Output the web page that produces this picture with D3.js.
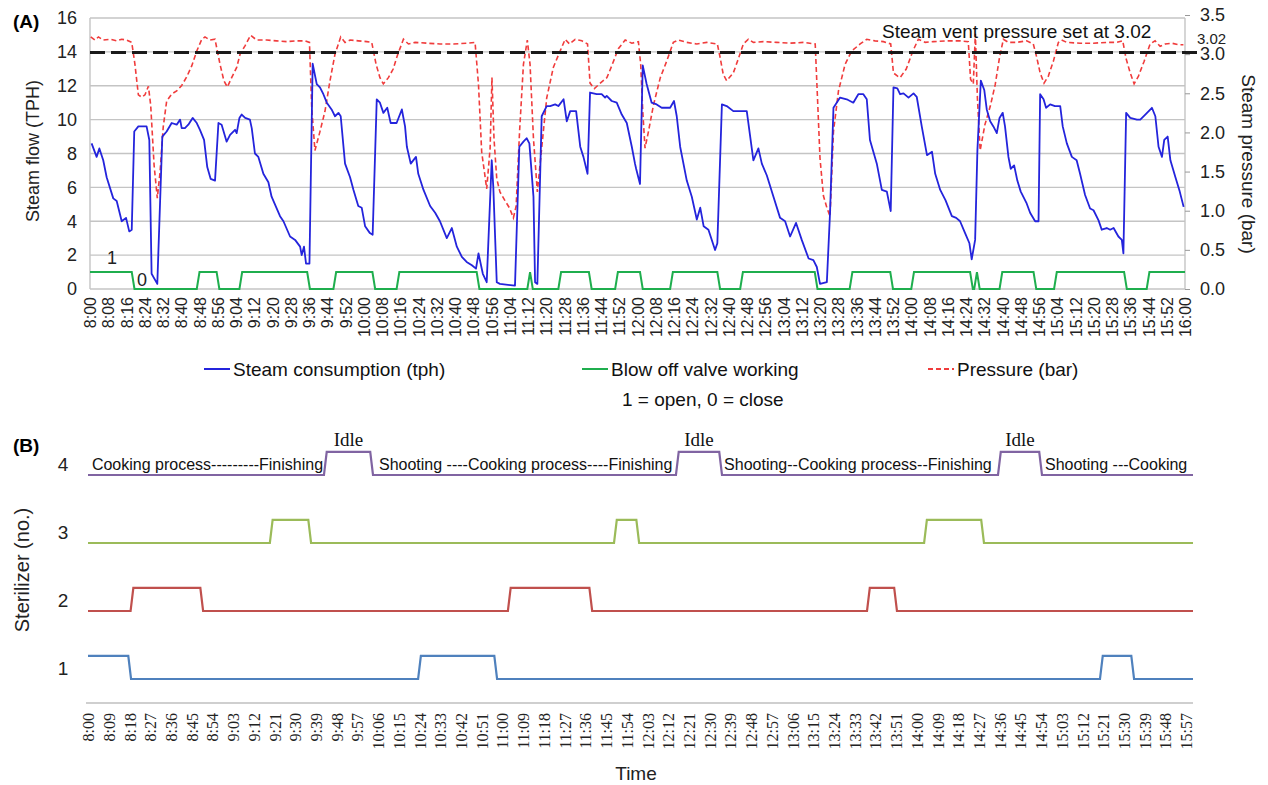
<!DOCTYPE html>
<html>
<head>
<meta charset="utf-8">
<script src="https://cdn.jsdelivr.net/npm/d3@7"></script>
<style>
  body { margin: 0; background: #fff; }
  svg { display: block; font-family: "Liberation Sans", Arial, sans-serif; }
</style>
</head>
<body>
<div id="chart"></div>
<script>
// all times are minutes after 8:00

// (A) steam consumption, tph  [minute, value]
var steamFlow = [
  [0.7,8.6],[2.9,7.8],[4.1,8.3],[5.8,7.6],[7.3,6.6],[10.2,5.35],[11.7,5.2],[13.9,4.0],[15.8,4.2],[17.2,3.4],
  [18.3,3.5],[19.4,9.3],[21.2,9.6],[24.8,9.6],[26.0,8.8],[27.0,0.9],[29.5,0.3],[31.7,9.0],[33.6,9.3],[35.8,9.8],
  [38.0,9.7],[39.5,10.0],[40.2,9.5],[41.6,9.5],[43.1,9.7],[45.0,10.1],[46.8,9.8],[48.2,9.4],[50.0,8.8],[51.4,7.2],
  [52.9,6.5],[54.8,6.4],[56.3,9.8],[57.7,9.7],[59.9,8.7],[61.4,9.1],[63.6,9.4],[64.3,9.2],[65.5,10.1],[66.5,10.3],
  [68.0,10.1],[70.1,10.0],[70.9,9.5],[72.3,8.0],[73.8,7.8],[76.0,6.8],[78.2,6.3],[79.6,5.45],[83.3,4.3],[84.8,4.0],
  [87.7,3.1],[89.9,2.9],[92.1,2.5],[92.8,2.0],[93.8,2.5],[94.7,1.5],[96.2,1.5],[97.6,13.3],[99.4,12.1],[100.8,11.9],
  [102.3,11.5],[103.8,11.0],[105.9,10.6],[107.4,10.2],[108.9,10.4],[109.9,10.2],[111.8,7.4],[114.0,6.6],[115.5,5.85],[117.6,4.9],
  [119.1,4.8],[120.6,3.7],[122.7,3.3],[123.9,3.2],[125.7,11.2],[127.1,11.0],[128.6,10.4],[130.3,10.7],[131.8,9.8],[134.4,9.8],
  [136.7,10.6],[138.1,9.6],[138.9,8.4],[140.6,7.4],[142.9,7.8],[143.9,6.8],[146.2,5.85],[149.1,4.9],[151.3,4.5],[153.4,4.0],
  [156.4,3.0],[158.6,3.6],[160.8,2.5],[163.0,1.9],[165.1,1.6],[167.4,1.4],[169.2,1.2],[170.3,2.1],[172.2,0.9],[173.9,0.4],
  [176.1,7.6],[176.8,6.0],[178.3,0.4],[179.7,0.3],[186.3,0.2],[188.2,8.4],[190.0,8.7],[191.4,8.9],[192.6,8.6],[194.4,5.45],
  [195.1,0.4],[196.1,0.3],[198.0,10.2],[200.2,10.8],[201.7,10.8],[203.9,10.9],[205.3,10.8],[207.6,11.2],[209.0,9.9],[210.5,10.5],
  [213.1,10.5],[214.9,8.4],[216.3,7.8],[218.1,6.8],[219.2,11.6],[222.1,11.5],[224.3,11.5],[225.8,11.3],[226.5,11.4],[228.7,11.1],
  [230.9,11.0],[233.1,10.3],[235.3,9.8],[237.5,8.4],[238.9,7.4],[239.4,7.1],[241.1,6.2],[242.3,13.2],[244.0,12.1],[246.2,11.0],
  [248.4,10.9],[250.6,10.7],[254.3,10.7],[256.0,11.1],[257.2,10.2],[258.7,8.4],[261.6,6.4],[263.8,5.45],[266.0,4.1],[267.5,4.8],
  [269.0,3.7],[271.1,3.5],[274.0,2.3],[275.0,2.7],[277.0,10.9],[279.1,10.8],[282.0,10.5],[284.2,10.5],[287.9,10.5],[289.4,9.0],
  [290.8,7.6],[293.0,8.3],[294.5,7.4],[296.7,6.7],[299.6,5.45],[302.5,4.2],[304.7,4.0],[306.9,3.1],[309.5,3.9],[312.0,2.9],
  [315.0,1.8],[317.1,1.7],[318.6,1.3],[320.0,0.3],[323.0,0.4],[324.4,4.5],[325.9,10.7],[328.8,11.3],[331.7,11.2],[334.6,11.0],
  [336.8,11.5],[339.0,11.5],[340.5,11.2],[341.9,8.8],[344.9,7.4],[347.1,5.85],[349.3,5.75],[351.0,4.6],[352.2,11.9],[353.9,11.85],
  [355.1,11.5],[356.6,11.55],[358.8,11.3],[361.0,11.55],[362.4,11.35],[364.6,9.6],[366.9,7.9],[369.1,8.1],[370.5,6.8],[372.7,5.85],
  [375.0,5.25],[377.8,4.3],[379.7,4.2],[381.4,4.0],[383.6,3.3],[385.5,2.7],[386.5,1.75],[388.0,2.9],[389.0,8.2],[390.5,12.3],
  [392.0,11.75],[393.1,10.6],[394.6,9.9],[396.0,9.6],[397.5,9.2],[398.7,10.1],[400.1,10.4],[401.1,9.6],[402.6,7.8],[403.6,7.1],
  [405.1,7.3],[406.5,6.4],[408.0,5.75],[410.6,5.05],[412.1,4.5],[414.3,4.0],[415.8,4.0],[416.5,11.5],[418.0,11.2],[419.1,10.7],
  [420.9,10.9],[423.0,10.8],[425.3,10.8],[426.4,9.6],[428.2,8.6],[430.4,7.8],[432.5,7.6],[434.0,6.8],[436.2,5.55],[438.4,4.75],
  [439.9,4.65],[442.1,4.05],[443.5,3.5],[445.7,3.6],[447.2,3.5],[448.7,3.6],[450.8,3.1],[452.3,2.9],[453.0,2.1],[454.2,10.4],
  [456.0,10.1],[458.9,10.0],[460.4,10.0],[462.6,10.3],[465.5,10.7],[467.0,10.2],[468.4,8.4],[469.9,7.8],[470.9,8.8],[472.4,9.0],
  [473.6,7.6],[475.8,6.6],[477.7,5.75],[479.4,4.85]
];

// (A) blow off valve open periods [from, to]
var valveOpen = [
  [0,19.5],[46.8,56.7],[65.5,96.4],[106.7,125],[134.4,170.7],[191.7,194.1],[205.3,219.9],[230.2,242.3],
  [254.3,276.2],[285,318.9],[333,352],[360,387],[387.6,390],[398.7,414.8],[422.6,454.5],[463.2,480]
];

// (A) steam pressure, bar  [minute, value]
var pressure = [
  [0.3,3.22],[2.2,3.18],[3.7,3.22],[5.8,3.18],[8.8,3.19],[11.7,3.17],[13.9,3.19],[16.1,3.18],[18.3,3.15],[19.7,2.87],
  [21.2,2.48],[22.7,2.45],[24.1,2.48],[25.6,2.59],[26.6,2.35],[28.1,1.58],[29.5,1.16],[30.7,1.49],[32.1,2.07],[33.6,2.40],
  [35.8,2.49],[38.0,2.53],[40.2,2.60],[42.4,2.71],[44.6,2.85],[46.8,3.04],[49.0,3.19],[50.4,3.22],[52.6,3.18],[54.8,3.19],
  [57.0,2.87],[58.7,2.66],[60.2,2.58],[62.1,2.70],[64.3,2.83],[65.8,3.00],[68.0,3.11],[70.4,3.24],[73.1,3.18],[77.5,3.18],
  [81.8,3.17],[86.2,3.16],[90.6,3.17],[94.3,3.17],[96.2,3.15],[97.2,2.31],[98.6,1.77],[100.8,2.01],[103.0,2.27],[105.2,2.66],
  [107.4,3.00],[109.9,3.22],[111.8,3.15],[114.0,3.18],[117.6,3.17],[121.3,3.16],[123.5,3.15],[125.4,2.87],[127.1,2.70],[128.6,2.62],
  [130.8,2.70],[132.9,2.81],[134.7,2.98],[137.4,3.19],[139.6,3.13],[142.5,3.15],[147.6,3.14],[153.4,3.13],[159.3,3.13],[165.1,3.14],
  [168.8,3.15],[170.3,2.61],[171.7,1.75],[173.9,1.28],[175.4,1.80],[176.2,2.70],[177.1,1.92],[178.3,1.41],[179.7,1.24],[181.9,1.13],
  [183.8,1.04],[185.6,0.91],[186.8,1.06],[188.3,2.01],[190.0,2.87],[191.7,3.18],[192.9,2.87],[194.4,1.92],[196.1,1.24],[198.0,1.80],
  [200.2,2.44],[203.1,2.83],[205.8,3.02],[208.3,3.19],[210.2,3.13],[212.7,3.19],[215.6,3.17],[218.1,3.13],[219.2,2.63],[221.1,2.56],
  [223.7,2.63],[226.6,2.70],[228.7,2.85],[231.6,3.07],[234.6,3.18],[237.5,3.14],[240.4,3.16],[241.4,2.87],[242.3,2.27],[243.3,1.80],
  [244.8,2.01],[247.0,2.35],[250.0,2.70],[252.8,2.91],[255.7,3.15],[257.9,3.18],[261.6,3.15],[266.0,3.13],[270.4,3.15],[275.0,3.13],
  [276.2,2.96],[277.6,2.74],[279.1,2.66],[282.0,2.76],[284.2,2.94],[286.4,3.13],[288.6,3.19],[290.8,3.15],[295.2,3.16],[301.0,3.15],
  [306.9,3.14],[312.8,3.15],[317.9,3.13],[318.9,2.44],[320.0,1.67],[321.5,1.19],[323.0,1.04],[324.4,0.93],[325.9,2.01],[328.1,2.53],
  [331.0,2.87],[333.9,3.04],[337.6,3.13],[340.5,3.19],[344.1,3.17],[347.8,3.16],[351.0,3.13],[352.2,2.76],[354.0,2.72],[355.1,2.70],
  [357.8,2.81],[360.7,3.04],[363.1,3.19],[366.1,3.15],[369.7,3.16],[375.6,3.17],[381.4,3.17],[385.0,3.16],[386.0,2.68],[387.2,2.62],
  [388.1,3.26],[389.0,2.44],[390.2,1.77],[392.3,2.10],[394.6,2.33],[396.8,2.61],[398.7,2.96],[400.4,3.19],[402.6,3.15],[406.2,3.15],
  [410.6,3.17],[413.5,3.13],[415.0,2.96],[416.5,2.76],[418.2,2.63],[420.1,2.72],[422.3,2.91],[424.5,3.15],[425.9,3.18],[428.2,3.15],
  [434.0,3.14],[439.9,3.14],[445.7,3.15],[450.1,3.15],[452.7,3.17],[454.2,2.94],[456.0,2.76],[457.7,2.62],[459.6,2.72],[462.1,2.91],
  [464.7,3.13],[466.9,3.17],[469.1,3.10],[471.3,3.13],[474.2,3.14],[477.1,3.12],[479.3,3.12]
];

var flowTicks = [0, 2, 4, 6, 8, 10, 12, 14, 16];
var pressureTicks = [0, 0.5, 1, 1.5, 2, 2.5, 3, 3.5];
var ventPressure = 3.02;
var timeTicksA = d3.range(0, 481, 8);

// (B) sterilizer busy periods [from, to]
var sterilizer1 = [[0, 18.7], [143.4, 177.7], [439.6, 454.4]];
var sterilizer2 = [[18.5, 50], [182.4, 219], [338.4, 351.4]];
var sterilizer3 = [[79, 96.9], [228.5, 239.4], [363.2, 389.2]];
var sterilizer4 = [[102.5, 123.8], [255.4, 275.4], [395.3, 414.4]];
var phaseText = ["Cooking process---------Finishing", "Shooting ----Cooking process----Finishing",
                 "Shooting--Cooking process--Finishing", "Shooting ---Cooking"];
var phaseStart = [1.7, 126.4, 276.3, 415.7];
var timeTicksB = d3.range(0, 478, 9);

var W = 1268, H = 785;
var sans = '"Liberation Sans", Arial, sans-serif';
var serif = '"Liberation Serif", "Times New Roman", serif';

function hm(m) {
  var h = 8 + Math.floor(m / 60), mm = m % 60;
  return h + ":" + (mm < 10 ? "0" : "") + mm;
}

// turns [from,to] periods into a 0/1 trace with short ramps
function stepTrace(periods, ramp) {
  var pts = [];
  if (periods[0][0] > 0) pts.push([0, 0]);
  periods.forEach(function (p) {
    if (p[0] <= 0) pts.push([0, 1]);
    else { pts.push([p[0], 0]); pts.push([p[0] + ramp, 1]); }
    if (p[1] >= 480) pts.push([480, 1]);
    else { pts.push([p[1] - ramp, 1]); pts.push([p[1], 0]); }
  });
  if (periods[periods.length - 1][1] < 480) pts.push([480, 0]);
  return pts;
}

var svg = d3.select("#chart").append("svg").attr("width", W).attr("height", H);
svg.append("rect").attr("width", W).attr("height", H).attr("fill", "#fff");

// ---------------- panel A ----------------
var xA = d3.scaleLinear().domain([0, 480]).range([90, 1185]);
var yL = d3.scaleLinear().domain([0, 16]).range([289, 18]);
var yR = d3.scaleLinear().domain([0, 3.5]).range([289, 15]);

var gA = svg.append("g");

gA.selectAll("line.grid").data(flowTicks).enter().append("line")
  .attr("class", "grid")
  .attr("x1", xA(0)).attr("x2", xA(480))
  .attr("y1", function (d) { return yL(d); }).attr("y2", function (d) { return yL(d); })
  .attr("stroke", "#c4c4c4").attr("stroke-width", 1.4);

[0, 480].forEach(function (t) {
  gA.append("line").attr("x1", xA(t)).attr("x2", xA(t))
    .attr("y1", yL(16)).attr("y2", yL(0))
    .attr("stroke", "#c4c4c4").attr("stroke-width", 1.4);
});

var axL = gA.append("g").attr("transform", "translate(" + xA(0) + ",0)")
  .call(d3.axisLeft(yL).tickValues(flowTicks).tickSize(0).tickPadding(13));
axL.select(".domain").remove();
axL.selectAll("text").attr("font-family", sans).attr("font-size", 18).attr("fill", "#222");

var axR = gA.append("g").attr("transform", "translate(" + xA(480) + ",0)")
  .call(d3.axisRight(yR).tickValues(pressureTicks).tickFormat(d3.format(".1f")).tickSize(5).tickPadding(10));
axR.select(".domain").remove();
axR.selectAll("line").attr("stroke", "#999");
axR.selectAll("text").attr("font-family", sans).attr("font-size", 18).attr("fill", "#222");

var axB = gA.append("g").attr("transform", "translate(0," + yL(0) + ")")
  .call(d3.axisBottom(xA).tickValues(timeTicksA).tickFormat(hm).tickSize(0));
axB.select(".domain").remove();
axB.selectAll("text")
  .attr("font-family", sans).attr("font-size", 16).attr("fill", "#222")
  .attr("transform", "rotate(-90)").attr("text-anchor", "end")
  .attr("x", -8).attr("y", 0).attr("dy", "0.35em");

var lineFlow = d3.line().x(function (d) { return xA(d[0]); }).y(function (d) { return yL(d[1]); });
var lineP = d3.line().x(function (d) { return xA(d[0]); }).y(function (d) { return yR(d[1]); });

gA.append("path").datum(pressure).attr("d", lineP)
  .attr("fill", "none").attr("stroke", "#f03c3c").attr("stroke-width", 1.6).attr("stroke-dasharray", "5,3");

gA.append("path").datum(stepTrace(valveOpen, 1.2)).attr("d", lineFlow)
  .attr("fill", "none").attr("stroke", "#1fae4e").attr("stroke-width", 2);

gA.append("path").datum(steamFlow).attr("d", lineFlow)
  .attr("fill", "none").attr("stroke", "#2424dc").attr("stroke-width", 1.8).attr("stroke-linejoin", "round");

gA.append("line")
  .attr("x1", xA(0)).attr("x2", xA(480) + 12)
  .attr("y1", yR(ventPressure)).attr("y2", yR(ventPressure))
  .attr("stroke", "#1a1a1a").attr("stroke-width", 3).attr("stroke-dasharray", "15,6");

gA.append("text").attr("x", 882).attr("y", 38).attr("font-size", 19).attr("fill", "#111")
  .text("Steam vent pressure set at " + ventPressure.toFixed(2));
gA.append("text").attr("x", xA(480) + 12).attr("y", yR(ventPressure) - 9).attr("font-size", 15).attr("fill", "#222")
  .text(ventPressure.toFixed(2));

gA.append("text").attr("x", 13).attr("y", 28).attr("font-size", 19).attr("font-weight", "bold").text("(A)");
gA.append("text").attr("transform", "translate(39,151) rotate(-90)").attr("text-anchor", "middle")
  .attr("font-size", 18).attr("fill", "#222").text("Steam flow (TPH)");
gA.append("text").attr("transform", "translate(1242,164) rotate(90)").attr("text-anchor", "middle")
  .attr("font-size", 19).attr("fill", "#222").text("Steam pressure (bar)");

gA.append("text").attr("x", xA(9.6)).attr("y", yL(1) - 8).attr("text-anchor", "middle")
  .attr("font-size", 18).attr("fill", "#222").text("1");
gA.append("text").attr("x", xA(22.8)).attr("y", yL(0) - 3).attr("text-anchor", "middle")
  .attr("font-size", 18).attr("fill", "#222").text("0");

// legend
var legend = [
  { label: "Steam consumption (tph)", color: "#2424dc", dash: null, x: 204 },
  { label: "Blow off valve working", color: "#1fae4e", dash: null, x: 582 },
  { label: "Pressure (bar)", color: "#f03c3c", dash: "5,3", x: 928 }
];
var lg = svg.append("g").selectAll("g").data(legend).enter().append("g")
  .attr("transform", function (d) { return "translate(" + d.x + ",369)"; });
lg.append("line").attr("x1", 0).attr("x2", 26).attr("y1", 0).attr("y2", 0)
  .attr("stroke", function (d) { return d.color; }).attr("stroke-width", 2)
  .attr("stroke-dasharray", function (d) { return d.dash; });
lg.append("text").attr("x", 29).attr("y", 0).attr("dy", "0.35em").attr("font-size", 19).attr("fill", "#111")
  .text(function (d) { return d.label; });
svg.append("text").attr("x", 622).attr("y", 399).attr("dy", "0.35em").attr("font-size", 19).attr("fill", "#111")
  .text("1 = open, 0 = close");

// ---------------- panel B ----------------
var xB = d3.scaleLinear().domain([0, 480]).range([88, 1193]);
var yB = d3.scaleLinear().domain([1, 4]).range([679, 475]);
var pulse = 0.34;
var sterColor = ["#4f81bd", "#c0504d", "#9bbb59", "#8064a2"];
var sterRuns = [sterilizer1, sterilizer2, sterilizer3, sterilizer4];

var gB = svg.append("g");

sterRuns.forEach(function (runs, i) {
  var n = i + 1;
  var line = d3.line().x(function (d) { return xB(d[0]); }).y(function (d) { return yB(n + d[1] * pulse); });
  gB.append("path").datum(stepTrace(runs, 1.2)).attr("d", line)
    .attr("fill", "none").attr("stroke", sterColor[i]).attr("stroke-width", 2.2);
  gB.append("text").attr("x", 63).attr("y", yB(n) - 11).attr("dy", "0.35em").attr("text-anchor", "middle")
    .attr("font-size", 19).attr("fill", "#222").text(n);
});

// phase notes along sterilizer 4
gB.selectAll("text.phase").data(phaseText).enter().append("text")
  .attr("class", "phase")
  .attr("x", function (d, i) { return xB(phaseStart[i]); })
  .attr("y", yB(4) - 5).attr("font-size", 16).attr("fill", "#111")
  .text(function (d) { return d; });
gB.selectAll("text.idle").data(sterilizer4).enter().append("text")
  .attr("class", "idle")
  .attr("x", function (d) { return xB((d[0] + d[1]) / 2); })
  .attr("y", yB(4 + pulse) - 6).attr("text-anchor", "middle")
  .attr("font-family", serif).attr("font-size", 19).attr("fill", "#111").text("Idle");

gB.append("line").attr("x1", xB(0) - 2).attr("x2", xB(480))
  .attr("y1", 703).attr("y2", 703).attr("stroke", "#cfcfcf").attr("stroke-width", 2);

var axT = gB.append("g").attr("transform", "translate(0,703)")
  .call(d3.axisBottom(xB).tickValues(timeTicksB).tickFormat(hm).tickSize(0));
axT.select(".domain").remove();
axT.selectAll("text")
  .attr("font-family", serif).attr("font-size", 16).attr("fill", "#222")
  .attr("transform", "rotate(-90)").attr("text-anchor", "end")
  .attr("x", -10).attr("y", 0).attr("dy", "0.35em");

gB.append("text").attr("x", 13).attr("y", 452).attr("font-size", 19).attr("font-weight", "bold").text("(B)");
gB.append("text").attr("transform", "translate(29,570) rotate(-90)").attr("text-anchor", "middle")
  .attr("font-size", 20).attr("fill", "#222").text("Sterilizer (no.)");
gB.append("text").attr("x", 636).attr("y", 780).attr("text-anchor", "middle")
  .attr("font-size", 19).attr("fill", "#222").text("Time");
</script>
</body>
</html>
